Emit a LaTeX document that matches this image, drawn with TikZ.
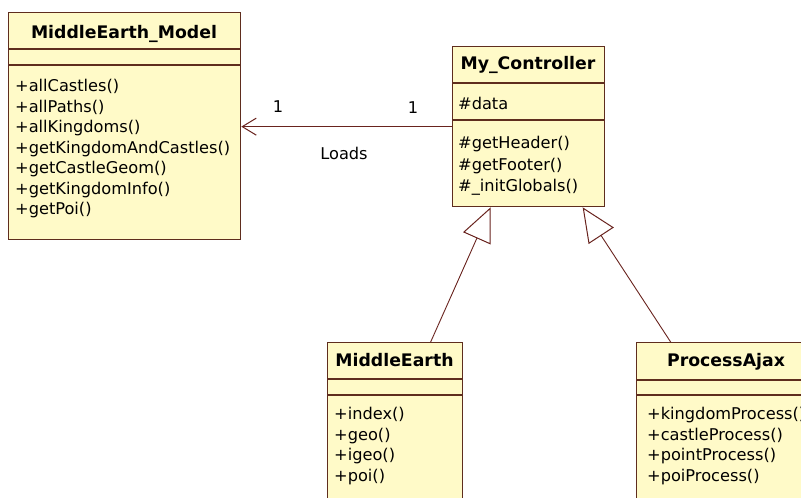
\documentclass[tikz,border=0pt]{standalone}
\usepackage{fontspec}
\setmainfont{DejaVu Sans}
\usetikzlibrary{positioning, arrows.meta}

\definecolor{classfill}{RGB}{255,250,200}
\definecolor{classedge}{RGB}{95,45,30}
\definecolor{linkcol}{RGB}{105,35,30}

\tikzset{
  classbox/.style={draw=classedge, fill=classfill, line width=1.3pt, inner sep=0pt, anchor=north west},
  divider/.style={draw=classedge, line width=1.3pt},
  classname/.style={inner sep=0pt, anchor=base, font=\fontsize{17.3}{20}\selectfont\bfseries},
  members/.style={inner sep=0pt, anchor=north west, align=left, font=\fontsize{16.2}{20.5}\selectfont},
  lbl/.style={inner sep=0pt, font=\fontsize{16.2}{20}\selectfont},
  inherit/.style={draw=linkcol, line width=0.9pt, -{Triangle[open, length=34pt, width=30pt, line width=1pt]}},
  assoc/.style={draw=linkcol, line width=1.1pt, -{Straight Barb[length=14pt, width=17pt, line width=1pt]}},
}

\begin{document}
\begin{tikzpicture}[x=1pt, y=-1pt]
  \useasboundingbox (0,0) rectangle (801,498);
  \clip (0,0) rectangle (801,498);

  % class boxes
  \node[classbox, minimum width=232pt, minimum height=227pt] (model) at (8,12) {};
  \node[classbox, minimum width=152pt, minimum height=160pt] (ctrl) at (452,46) {};
  \node[classbox, minimum width=135pt, minimum height=180pt] (me) at (327,342) {};
  \node[classbox, minimum width=180pt, minimum height=180pt] (ajax) at (636,342) {};

  % compartments
  \draw[divider] ([yshift=-37pt]model.north west) -- ([yshift=-37pt]model.north east);
  \draw[divider] ([yshift=-53pt]model.north west) -- ([yshift=-53pt]model.north east);
  \draw[divider] ([yshift=-37pt]ctrl.north west) -- ([yshift=-37pt]ctrl.north east);
  \draw[divider] ([yshift=-74pt]ctrl.north west) -- ([yshift=-74pt]ctrl.north east);
  \draw[divider] ([yshift=-37pt]me.north west) -- ([yshift=-37pt]me.north east);
  \draw[divider] ([yshift=-53pt]me.north west) -- ([yshift=-53pt]me.north east);
  \draw[divider] ([yshift=-38pt]ajax.north west) -- ([yshift=-38pt]ajax.north east);
  \draw[divider] ([yshift=-53pt]ajax.north west) -- ([yshift=-53pt]ajax.north east);

  % names
  \node[classname] (modelname) at (124,38) {MiddleEarth\_Model};
  \node[classname] (ctrlname) at (528,69) {My\_Controller};
  \node[classname] (mename) at (394.5,366) {MiddleEarth};
  \node[classname] (ajaxname) at (726,366) {ProcessAjax};

  % members
  \node[members] (modelops) at (15,79) {+allCastles()\\+allPaths()\\+allKingdoms()\\+getKingdomAndCastles()\\+getCastleGeom()\\+getKingdomInfo()\\+getPoi()};
  \node[members] (ctrlattr) at (458,97) {\#data};
  \node[members, font=\fontsize{16.2}{21.5}\selectfont] (ctrlops) at (458,136) {\#getHeader()\\\#getFooter()\\\#\_initGlobals()};
  \node[members] (meops) at (334,407) {+index()\\+geo()\\+igeo()\\+poi()};
  \node[members] (ajaxops) at (647,407) {+kingdomProcess()\\+castleProcess()\\+pointProcess()\\+poiProcess()};

  % association
  \draw[assoc] (ctrl.west) -- (ctrl.west -| model.east);
  \node[lbl] (multa) at (278,107) {1};
  \node[lbl] (multb) at (413,108) {1};
  \node[lbl] (loads) at (344,153) {Loads};

  % generalisations
  \draw[inherit] ([xshift=35.5pt]me.north) -- ([xshift=-38pt]ctrl.south);
  \draw[inherit] ([xshift=-56pt]ajax.north) -- ([xshift=54pt]ctrl.south);
\end{tikzpicture}
\end{document}
